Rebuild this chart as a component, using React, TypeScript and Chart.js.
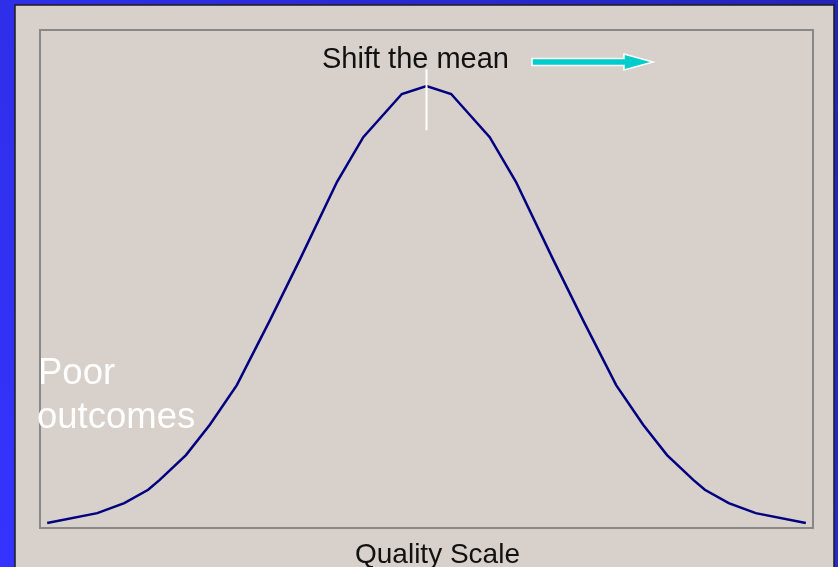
import React, { useEffect, useRef } from "react";
import { Chart, registerables } from "chart.js";

Chart.register(...registerables);

// Quality scale positions (0..100) and relative frequency (0..100)
const qualityX = [0.8, 7.3, 10.8, 13.9, 15.4, 18.8, 21.9, 25.4, 29.7, 33.6, 38.4, 41.8, 46.8, 50, 53.2, 58.2, 61.6, 66.4, 70.3, 74.6, 78.1, 81.2, 84.6, 86.1, 89.2, 92.7, 99.2];
const frequency = [0.8, 2.8, 4.8, 7.5, 9.5, 14.5, 20.6, 28.6, 41.7, 54.0, 69.6, 78.6, 87.3, 88.9, 87.3, 78.6, 69.6, 54.0, 41.7, 28.6, 20.6, 14.5, 9.5, 7.5, 4.8, 2.8, 0.8];
const meanMarkerX = [50, 50];
const meanMarkerY = [80.0, 92.3];
const labels = {
  shift: "Shift the mean",
  poor1: "Poor",
  poor2: "outcomes",
  axis: "Quality Scale",
};

const FONT = '"Liberation Sans", Arial, sans-serif';

const decorPlugin = {
  id: "decor",
  beforeDraw(chart: any) {
    const { ctx, width, height, chartArea } = chart;
    ctx.save();
    const g = ctx.createLinearGradient(0, height, width, 0);
    g.addColorStop(0, "#3434ff");
    g.addColorStop(1, "#2424b8");
    ctx.fillStyle = g;
    ctx.fillRect(0, 0, width, height);
    // panel
    ctx.fillStyle = "#d8d0ca";
    ctx.fillRect(15, 5, 819, height);
    ctx.strokeStyle = "#1c1c1c";
    ctx.lineWidth = 1.5;
    ctx.beginPath();
    ctx.moveTo(15, height + 2);
    ctx.lineTo(15, 5);
    ctx.lineTo(834, 5);
    ctx.lineTo(834, height + 2);
    ctx.stroke();
    // plot box
    ctx.strokeStyle = "#888888";
    ctx.lineWidth = 2;
    ctx.strokeRect(chartArea.left - 1, chartArea.top - 1, chartArea.right - chartArea.left + 2, chartArea.bottom - chartArea.top + 2);
    ctx.restore();
  },
  afterDraw(chart: any) {
    const { ctx } = chart;
    ctx.save();
    ctx.textBaseline = "alphabetic";
    ctx.textAlign = "left";
    ctx.fillStyle = "#111111";
    ctx.font = `29px ${FONT}`;
    ctx.fillText(labels.shift, 322, 68);
    ctx.font = `28px ${FONT}`;
    ctx.fillText(labels.axis, 355, 563);
    ctx.fillStyle = "#ffffff";
    ctx.font = `36.5px ${FONT}`;
    ctx.fillText(labels.poor1, 38, 384);
    ctx.fillText(labels.poor2, 37, 428);
    // arrow
    ctx.beginPath();
    ctx.moveTo(532, 58.5);
    ctx.lineTo(624, 58.5);
    ctx.lineTo(624, 54);
    ctx.lineTo(653, 62);
    ctx.lineTo(624, 70);
    ctx.lineTo(624, 65.5);
    ctx.lineTo(532, 65.5);
    ctx.closePath();
    ctx.fillStyle = "#00cccc";
    ctx.fill();
    ctx.strokeStyle = "#ffffff";
    ctx.lineWidth = 1.5;
    ctx.stroke();
    ctx.restore();
  },
};

export default function App() {
  const ref = useRef<HTMLCanvasElement>(null);
  useEffect(() => {
    if (!ref.current) return;
    const chart = new Chart(ref.current, {
      type: "line",
      data: {
        datasets: [
          {
            data: meanMarkerX.map((x, i) => ({ x, y: meanMarkerY[i] })),
            borderColor: "#ffffff",
            borderWidth: 2,
            pointRadius: 0,
            tension: 0,
          },
          {
            data: qualityX.map((x, i) => ({ x, y: frequency[i] })),
            borderColor: "#000080",
            borderWidth: 2.5,
            pointRadius: 0,
            tension: 0,
          },
        ],
      },
      options: {
        animation: false,
        responsive: false,
        layout: { padding: { left: 41, right: 26, top: 31, bottom: 40 } },
        plugins: { legend: { display: false }, tooltip: { enabled: false } },
        scales: {
          x: { type: "linear", min: 0, max: 100, display: false },
          y: { type: "linear", min: 0, max: 100, display: false },
        },
      },
      plugins: [decorPlugin],
    });
    return () => chart.destroy();
  }, []);
  return (
    <div style={{ position: "fixed", left: 0, top: 0, width: 838, height: 567 }}>
      <canvas ref={ref} width={838} height={567} style={{ display: "block" }} />
    </div>
  );
}
